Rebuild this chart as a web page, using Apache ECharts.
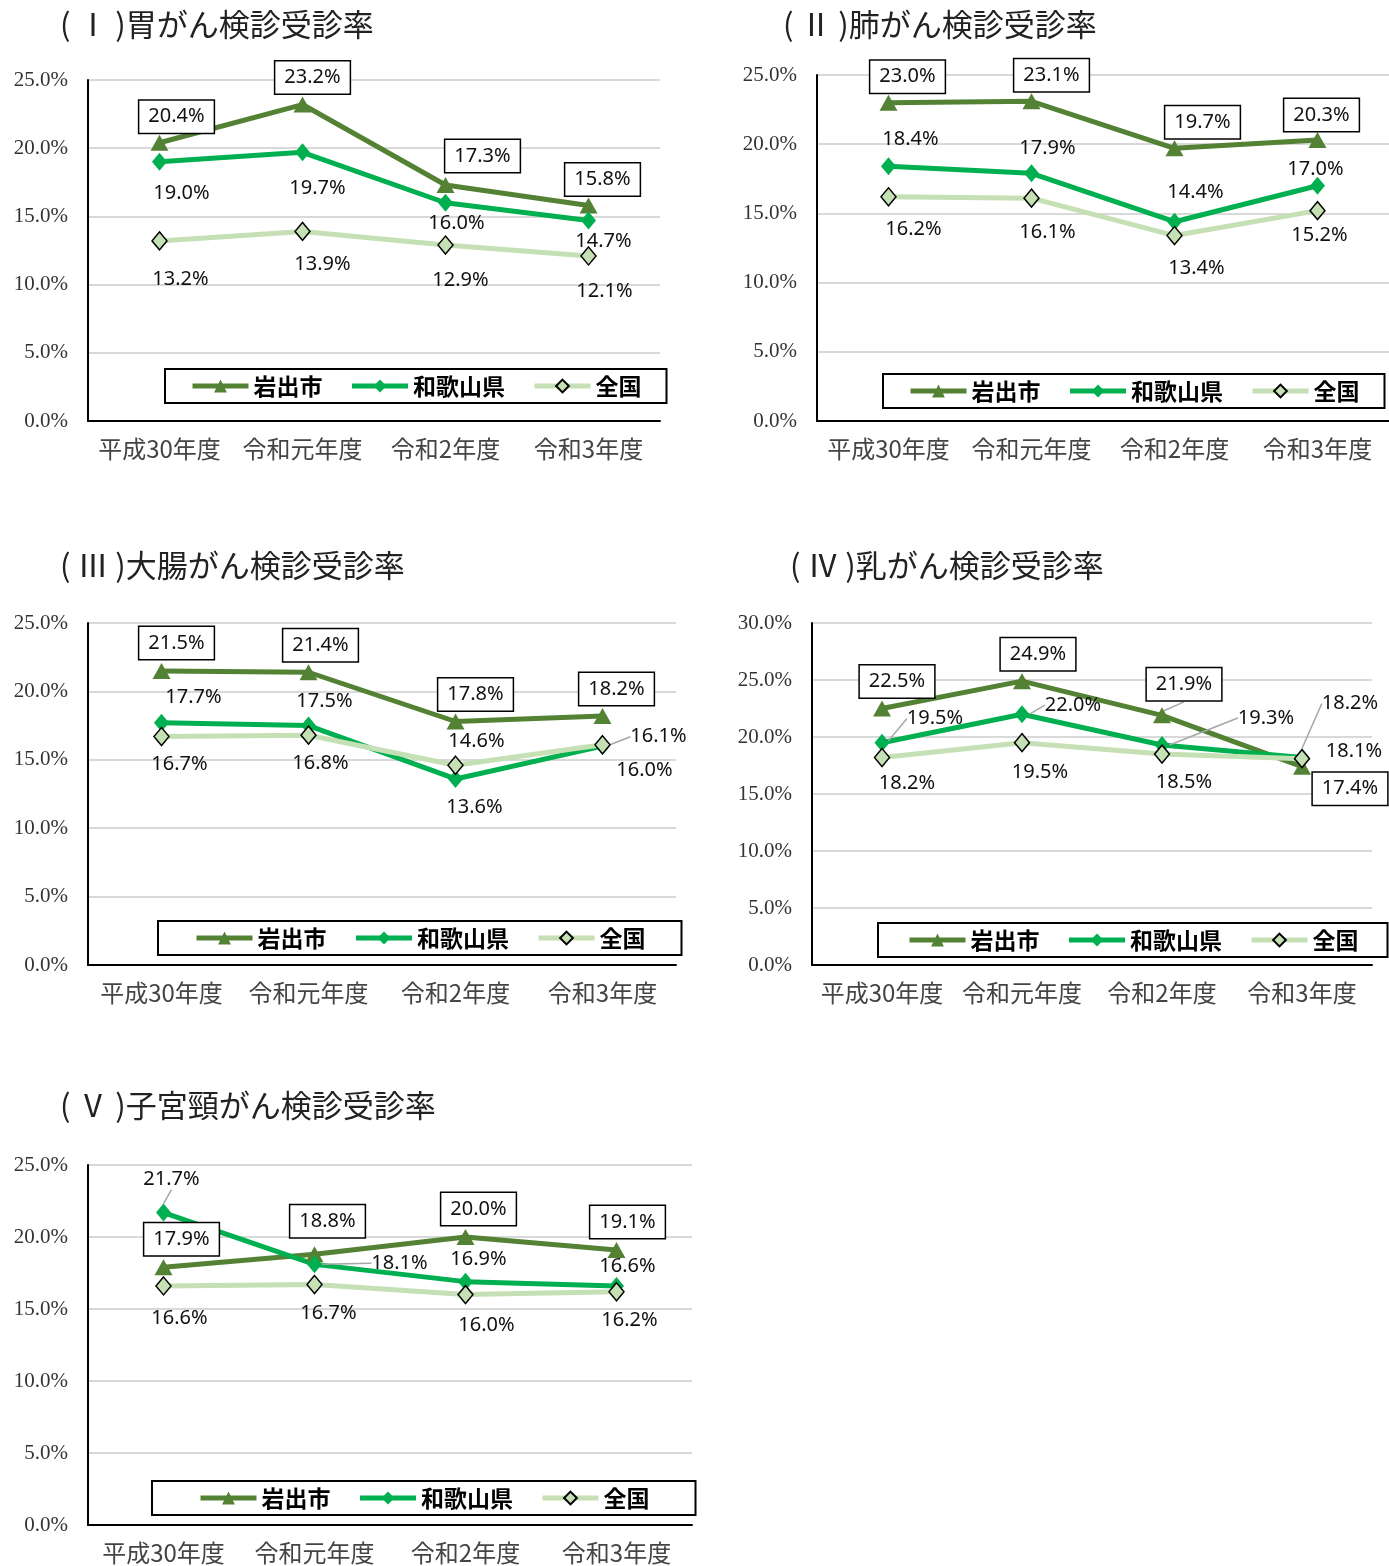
<!DOCTYPE html>
<html><head><meta charset="utf-8">
<script src="https://cdn.jsdelivr.net/npm/echarts@6/dist/echarts.min.js"></script>
<style>html,body{margin:0;padding:0;background:#fff}#c{width:1389px;height:1566px}</style>
</head><body><div id="c"></div>
<script>
const categories = ['平成30年度','令和元年度','令和2年度','令和3年度'];
const seriesNames = ['岩出市','和歌山県','全国'];
const titles = ['( Ⅰ )胃がん検診受診率','( Ⅱ )肺がん検診受診率','( Ⅲ )大腸がん検診受診率','( Ⅳ )乳がん検診受診率','( Ⅴ )子宮頸がん検診受診率'];
const yMax = [25, 25, 25, 30, 25];

const iwade1 = [20.4, 23.2, 17.3, 15.8];
const wakayama1 = [19.0, 19.7, 16.0, 14.7];
const zenkoku1 = [13.2, 13.9, 12.9, 12.1];

const iwade2 = [23.0, 23.1, 19.7, 20.3];
const wakayama2 = [18.4, 17.9, 14.4, 17.0];
const zenkoku2 = [16.2, 16.1, 13.4, 15.2];

const iwade3 = [21.5, 21.4, 17.8, 18.2];
const wakayama3 = [17.7, 17.5, 13.6, 16.0];
const zenkoku3 = [16.7, 16.8, 14.6, 16.1];

const iwade4 = [22.5, 24.9, 21.9, 17.4];
const wakayama4 = [19.5, 22.0, 19.3, 18.2];
const zenkoku4 = [18.2, 19.5, 18.5, 18.1];

const iwade5 = [17.9, 18.8, 20.0, 19.1];
const wakayama5 = [21.7, 18.1, 16.9, 16.6];
const zenkoku5 = [16.6, 16.7, 16.0, 16.2];

// layout (positions only)
const panels = [
  {data:[iwade1,wakayama1,zenkoku1], grid:{left:88,top:80,width:572,height:341}, title:[60,9],
   legend:{left:165,top:369,padH:25},
   offs:[[[17,-26],[10,-27],[37,-29],[14,-26]],[[22,31],[15,36],[11,21],[15,21]],[[21,38],[20,33],[15,35],[16,35]]],
   lines:[[],[],[]]},
  {data:[iwade2,wakayama2,zenkoku2], grid:{left:817,top:75,width:580,height:346}, title:[783,9],
   legend:{left:883,top:374,padH:25},
   offs:[[[19,-26],[20,-26],[28,-26],[4,-25]],[[22,-27],[16,-25],[21,-29],[-2,-16]],[[25,33],[16,34],[22,33],[2,25]]],
   lines:[[],[],[]]},
  {data:[iwade3,wakayama3,zenkoku3], grid:{left:88,top:623,width:588,height:342}, title:[60,550],
   legend:{left:158,top:921,padH:36},
   offs:[[[15,-28],[12,-27],[20,-27],[14,-27]],[[32,-26],[16,-24],[19,28],[42,24]],[[18,28],[12,28],[21,-24],[56,-8]]],
   lines:[[],[],[3]]},
  {data:[iwade4,wakayama4,zenkoku4], grid:{left:812,top:623,width:560,height:342}, title:[790,550],
   legend:{left:878,top:923,padH:29},
   offs:[[[15,-27],[16,-27],[22,-31],[48,22]],[[53,-24],[51,-9],[104,-27],[48,-54]],[[25,26],[18,30],[22,28],[52,-7]]],
   lines:[[2],[0,1,2,3],[]]},
  {data:[iwade5,wakayama5,zenkoku5], grid:{left:88,top:1165,width:604,height:360}, title:[60,1090],
   legend:{left:152,top:1481,padH:46},
   offs:[[[18,-28],[13,-33],[13,-28],[11,-28]],[[8,-33],[85,-1],[13,-22],[11,-20]],[[16,32],[14,29],[21,31],[13,29]]],
   lines:[[],[0,1],[]]}
];

const colors = ['#548235', '#00b050', '#c5e0b4'];
const symbols = ['triangle', 'diamond', 'diamond'];
const symbolSizes = [[18,16], [15,18], [15,18]];
const JP = '"Noto Sans CJK JP", "Noto Sans", sans-serif';
const NUM = '"Noto Sans", "Liberation Sans", sans-serif';

const option = {
  animation: false,
  backgroundColor: '#fff',
  title: [], grid: [], xAxis: [], yAxis: [], legend: [], series: []
};

panels.forEach((p, gi) => {
  option.title.push({
    text: titles[gi], left: p.title[0], top: p.title[1], padding: 0,
    textStyle: {fontFamily: JP, fontSize: 31, fontWeight: 'normal', color: '#222'}
  });
  option.grid.push(Object.assign({containLabel: false}, p.grid));
  option.xAxis.push({
    type: 'category', gridIndex: gi, data: categories, boundaryGap: true,
    axisLine: {show: true, lineStyle: {color: '#000', width: 2}},
    axisTick: {show: false},
    axisLabel: {interval: 0, margin: 16, fontFamily: JP, fontSize: 24, color: '#444'},
    splitLine: {show: false}
  });
  option.yAxis.push({
    type: 'value', gridIndex: gi, min: 0, max: yMax[gi], interval: 5,
    axisLine: {show: true, lineStyle: {color: '#000', width: 2}},
    axisTick: {show: false},
    axisLabel: {margin: 20, fontFamily: '"Liberation Serif", serif', fontSize: 21, color: '#333',
      formatter: v => v.toFixed(1) + '%'},
    splitLine: {show: true, lineStyle: {color: '#d9d9d9', width: 2}}
  });
  option.legend.push({
    data: seriesNames, left: p.legend.left, top: p.legend.top, width: 800,
    orient: 'horizontal', itemWidth: 56, itemHeight: 16, itemGap: 27,
    padding: [5, p.legend.padH], borderColor: '#000', borderWidth: 2, backgroundColor: '#fff',
    lineStyle: {width: 5},
    textStyle: {fontFamily: JP, fontSize: 23, fontWeight: 'bold', color: '#000', lineHeight: 24},
    selectedMode: false
  });
  for (let s = 0; s < 3; s++) {
    const vals = p.data[s];
    const offs = p.offs[s];
    const lineIdx = p.lines[s];
    option.series.push({
      name: seriesNames[s], type: 'line', xAxisIndex: gi, yAxisIndex: gi,
      data: vals.map((v, i) => {
        const item = {value: v};
        if (lineIdx.indexOf(i) >= 0) {
          item.labelLine = {show: true, lineStyle: {color: '#a6a6a6', width: 1.5}};
        }
        return item;
      }),
      symbol: symbols[s], symbolSize: symbolSizes[s],
      lineStyle: {color: colors[s], width: 5},
      itemStyle: {color: colors[s], borderColor: s === 2 ? '#000' : colors[s], borderWidth: s === 2 ? 1.5 : 0},
      label: Object.assign({
        show: true, position: 'inside', color: '#111', textBorderWidth: 0,
        fontFamily: NUM, fontSize: 20,
        formatter: pr => pr.value.toFixed(1) + '%'
      }, s === 0 ? {backgroundColor: '#fff', borderColor: '#000', borderWidth: 1.5, padding: [6, 9]} : {}),
      labelLayout: (params) => ({dx: offs[params.dataIndex][0], dy: offs[params.dataIndex][1]}),
      emphasis: {disabled: true}
    });
  }
});

const chart = echarts.init(document.getElementById('c'), null, {renderer: 'canvas'});
chart.setOption(option);
</script>
</body></html>
